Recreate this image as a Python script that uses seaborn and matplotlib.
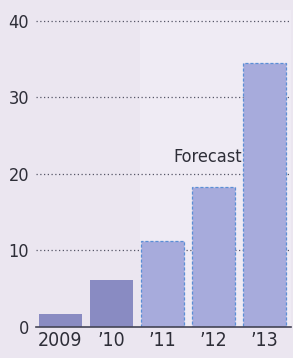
import matplotlib
matplotlib.use("Agg")
import matplotlib.pyplot as plt
import seaborn as sns
import pandas as pd

years = ["2009", "’10", "’11", "’12", "’13"]
values = [1.7, 6.1, 11.2, 18.3, 34.5]
kind = ["Actual", "Actual", "Forecast", "Forecast", "Forecast"]
yticks = [0, 10, 20, 30, 40]

df = pd.DataFrame({"year": years, "value": values, "kind": kind})

sns.set_theme(style="white")
plt.rcParams['font.family'] = ['DejaVu Sans']
plt.rcParams['font.stretch'] = 'condensed'

bg = "#ebe6f0"
fig = plt.figure(figsize=(2.93, 3.58), dpi=100, facecolor=bg)
ax = fig.add_axes([36/293, 1 - 327/358, 255/293, (327 - 9.5)/358])
ax.set_facecolor(bg)

for y in yticks[1:]:
    ax.axhline(y, color="#555566", lw=0.9, ls=(0, (1, 2.0)), zorder=1)

sns.barplot(data=df, x="year", y="value", hue="kind",
            palette={"Actual": "#898bc2", "Forecast": "#a7abdc"},
            width=0.85, dodge=False, legend=False, ax=ax, zorder=2, saturation=1)

for patch in list(ax.patches):
    cx = patch.get_x() + patch.get_width() / 2
    if cx > 1.5 and patch.get_height() > 0:
        patch.set_edgecolor("#5b8fd6")
        patch.set_linestyle((0, (2.5, 1.5)))
        patch.set_linewidth(0.9)
    else:
        patch.set_edgecolor("none")

# forecast region slightly lighter
ax.axvspan(1.55, 4.6, facecolor="#efebf4", edgecolor="none", zorder=0, lw=0)

ax.set_xlim(-0.48, 4.52)
ax.set_ylim(0, 41.5)
ax.set_yticks(yticks)
ax.set_xlabel("")
ax.set_ylabel("")
for s in ["top", "right", "left"]:
    ax.spines[s].set_visible(False)
ax.spines["bottom"].set_color("#444455")
ax.spines["bottom"].set_linewidth(1.2)
ax.tick_params(axis="both", length=0, labelcolor="#2e2e38")
ax.tick_params(axis="y", pad=5, labelsize=13)
ax.tick_params(axis="x", pad=3, labelsize=14)

ax.text(3.55, 21.0, "Forecast", ha="right", va="bottom", fontsize=13,
        color="#2e2e38")

fig.savefig("out.png", dpi=100, facecolor=bg)
